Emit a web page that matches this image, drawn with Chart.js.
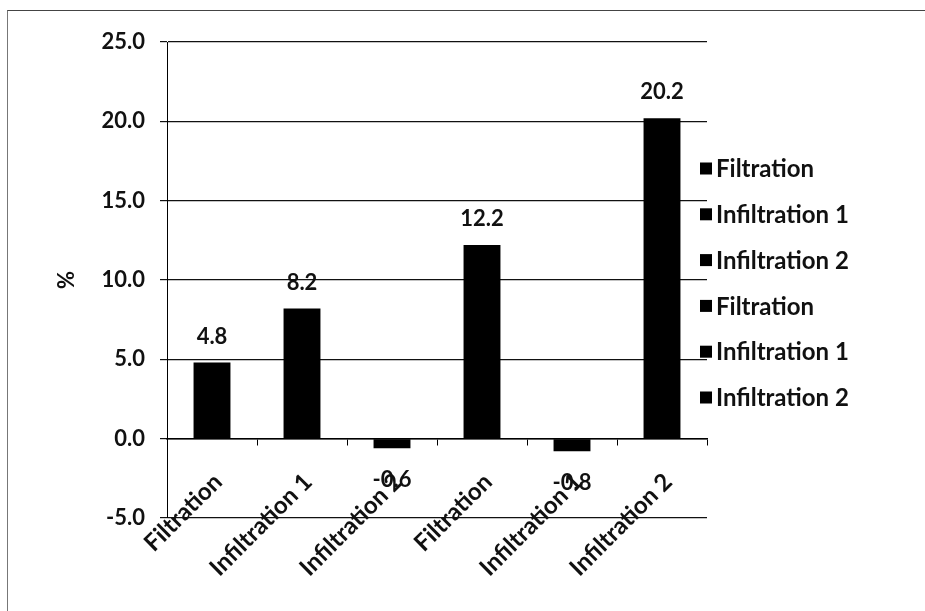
<!DOCTYPE html>
<html>
<head>
<meta charset="utf-8">
<script src="https://cdn.jsdelivr.net/npm/chart.js@4.4.1/dist/chart.umd.min.js"></script>
<style>
  html, body { margin: 0; padding: 0; background: #fff; }
  #wrap { position: relative; width: 925px; height: 611px; overflow: hidden; }
  #frame { position: absolute; left: 7px; top: 10px; width: 940px; height: 620px;
           border-top: 1px solid #444; border-left: 1px solid #777; pointer-events: none; }
  canvas { position: absolute; left: 0; top: 0; }
</style>
</head>
<body>
<div id="wrap">
  <canvas id="c" width="925" height="611"></canvas>
  <div id="frame"></div>
</div>
<script>
// Categories and percentage changes
const categories = ['Filtration', 'Infiltration 1', 'Infiltration 2', 'Filtration', 'Infiltration 1', 'Infiltration 2'];
const values = [4.8, 8.2, -0.6, 12.2, -0.8, 20.2];
const barColors = ['#000', '#000', '#000', '#000', '#000', '#000'];
const yMin = -5, yMax = 25, yStep = 5;
const yTitle = '%';

const FONT = 'Lato, "Open Sans", sans-serif';
const INK = '#111';

// Value labels above positive bars and below negative ones
const valueLabels = {
  id: 'valueLabels',
  afterDatasetsDraw(chart) {
    const ctx = chart.ctx;
    const meta = chart.getDatasetMeta(0);
    ctx.save();
    ctx.font = 'bold 22px ' + FONT;
    ctx.fillStyle = INK;
    ctx.textAlign = 'center';
    meta.data.forEach((bar, i) => {
      const v = values[i];
      const txt = v.toFixed(1);
      if (v >= 0) {
        ctx.textBaseline = 'alphabetic';
        ctx.fillText(txt, bar.x, bar.y - 19);
      } else {
        ctx.textBaseline = 'top';
        ctx.fillText(txt, bar.x, bar.y + 21);
      }
    });
    ctx.restore();
  }
};

// Category legend on the right, one entry per bar
const sideLegend = {
  id: 'sideLegend',
  afterDraw(chart) {
    const ctx = chart.ctx;
    const area = chart.chartArea;
    const x0 = area.right - 7;
    const yc = (area.top + area.bottom) / 2 + 3;
    const gap = 45.8;
    const n = categories.length;
    ctx.save();
    ctx.font = 'bold 24px ' + FONT;
    ctx.textBaseline = 'middle';
    ctx.textAlign = 'left';
    categories.forEach((name, i) => {
      const y = yc + (i - (n - 1) / 2) * gap;
      ctx.fillStyle = barColors[i];
      ctx.fillRect(x0, y - 6, 12, 12);
      ctx.fillStyle = INK;
      ctx.fillText(name, x0 + 16, y + 1);
    });
    ctx.restore();
  }
};

new Chart(document.getElementById('c'), {
  type: 'bar',
  data: {
    labels: categories,
    datasets: [{
      label: yTitle,
      data: values,
      backgroundColor: barColors,
      borderWidth: 0,
      barPercentage: 0.41,
      categoryPercentage: 1
    }]
  },
  options: {
    responsive: false,
    animation: false,
    layout: { padding: { left: 0, top: 42, right: 218, bottom: 93 } },
    plugins: { legend: { display: false }, tooltip: { enabled: false } },
    scales: {
      x: {
        position: { y: 0 },
        grid: { offset: true, drawOnChartArea: false, drawTicks: true, tickLength: 6, color: '#000', lineWidth: 1 },
        border: { display: true, color: '#000', width: 1.5 },
        ticks: {
          minRotation: 45, maxRotation: 45, autoSkip: false, padding: 23, labelOffset: 6,
          color: INK, font: { family: FONT, size: 24, weight: 'bold' }
        }
      },
      y: {
        min: yMin, max: yMax,
        afterFit(scale) { scale.width = 167; },
        grid: { color: '#111', lineWidth: 1.2, drawTicks: true, tickLength: 7 },
        border: { display: true, color: '#000', width: 1 },
        ticks: {
          stepSize: yStep, padding: 15, color: INK,
          font: { family: FONT, size: 22, weight: 'bold' },
          callback: (v) => Number(v).toFixed(1)
        },
        title: {
          display: true, text: yTitle, color: INK,
          font: { family: FONT, size: 22, weight: 'bold' },
          padding: { top: 54, bottom: 0 }
        }
      }
    }
  },
  plugins: [valueLabels, sideLegend]
});
</script>
</body>
</html>
